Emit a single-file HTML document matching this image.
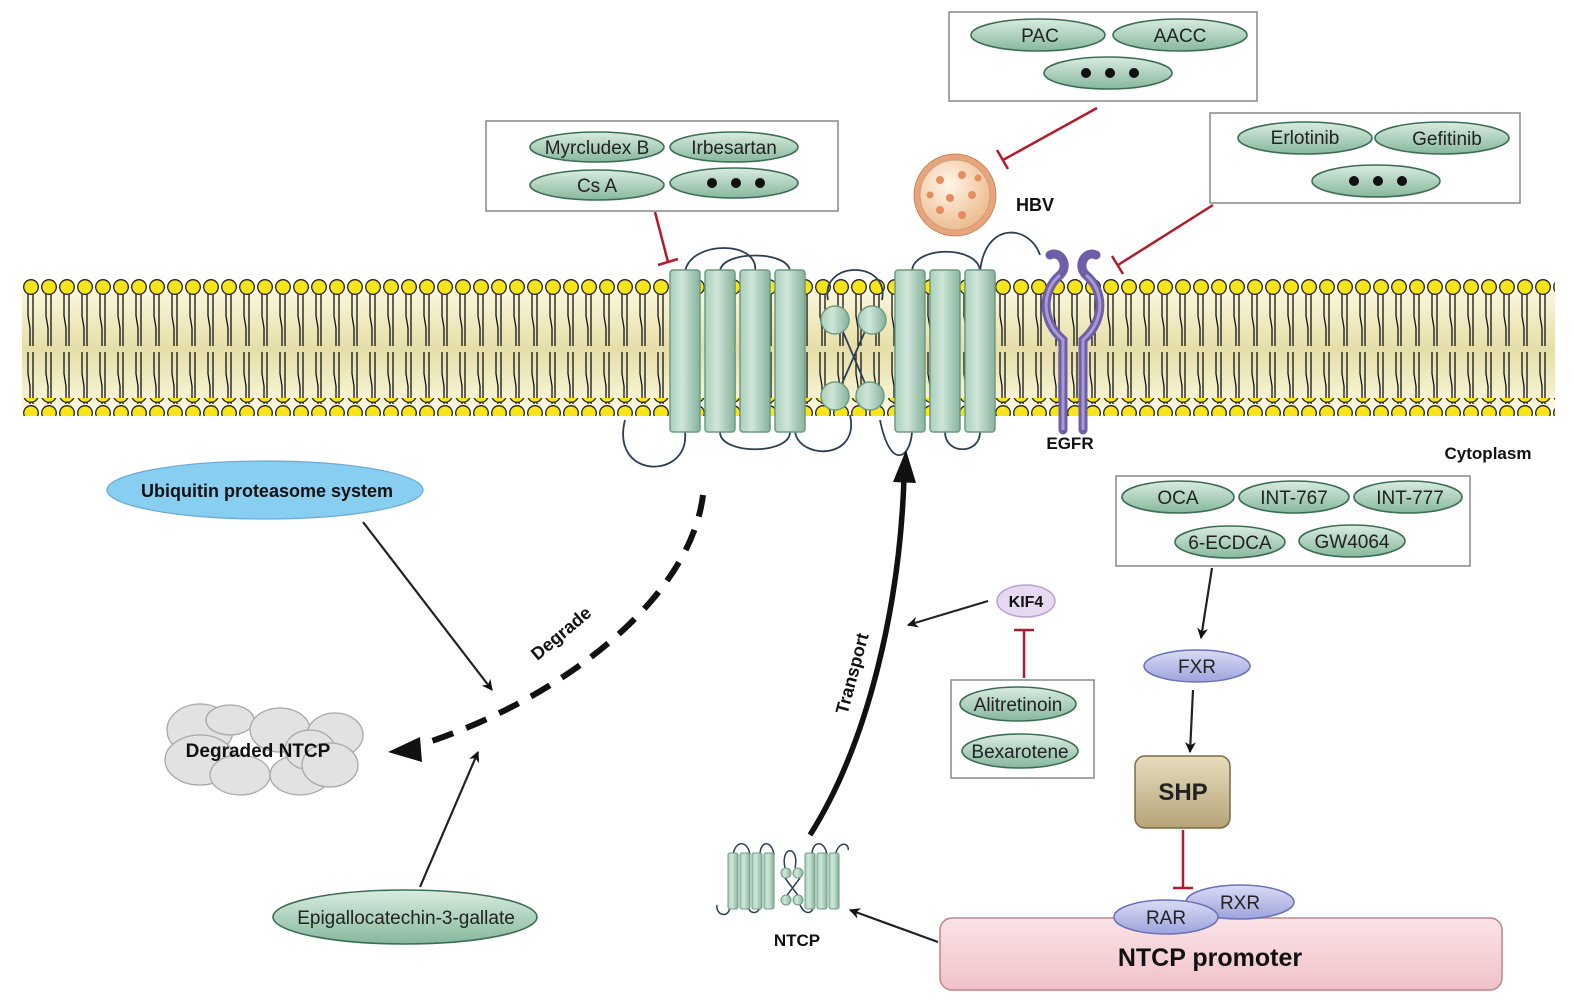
<!DOCTYPE html>
<html><head><meta charset="utf-8"><style>
body{margin:0;background:#fff}
svg{display:block}
text{font-family:"Liberation Sans",sans-serif}
</style></head><body>
<svg width="1574" height="1008" viewBox="0 0 1574 1008" xmlns="http://www.w3.org/2000/svg">
<defs>
<linearGradient id="mem" x1="0" y1="0" x2="0" y2="1">
<stop offset="0" stop-color="#fbf7dc"/><stop offset="0.5" stop-color="#e6dea8"/><stop offset="1" stop-color="#fbf7dc"/></linearGradient>
<linearGradient id="grn" x1="0" y1="0" x2="0" y2="1">
<stop offset="0" stop-color="#d9ece0"/><stop offset="1" stop-color="#86b89c"/></linearGradient>
<linearGradient id="prot" x1="0" y1="0" x2="1" y2="0">
<stop offset="0" stop-color="#a9cfbb"/><stop offset="0.4" stop-color="#cfe6d9"/><stop offset="1" stop-color="#86b39c"/></linearGradient>
<linearGradient id="pur" x1="0" y1="0" x2="0" y2="1">
<stop offset="0" stop-color="#d9dcf5"/><stop offset="1" stop-color="#9da3dc"/></linearGradient>
<linearGradient id="shp" x1="0" y1="0" x2="0" y2="1">
<stop offset="0" stop-color="#e6dcbd"/><stop offset="1" stop-color="#b6a479"/></linearGradient>
<linearGradient id="pink" x1="0" y1="0" x2="0" y2="1">
<stop offset="0" stop-color="#fbe3e6"/><stop offset="1" stop-color="#f0c2c8"/></linearGradient>
<radialGradient id="hbv" cx="0.4" cy="0.35" r="0.7">
<stop offset="0" stop-color="#fff6ea"/><stop offset="1" stop-color="#ecb98a"/></radialGradient>
<pattern id="heads" x="22" y="278" width="18" height="18" patternUnits="userSpaceOnUse">
<circle cx="9" cy="9" r="7.3" fill="#f7e51a" stroke="#222" stroke-width="1.3"/></pattern>
<pattern id="tails" x="22" y="294" width="18" height="110" patternUnits="userSpaceOnUse">
<g stroke="#111" stroke-width="1.3" fill="none">
<polyline points="6,0 6,22 8,34 8,52"/><polyline points="11,0 11,52"/>
<polyline points="6,58 6,80 8,92 8,110"/><polyline points="11,58 11,110"/></g></pattern>
<marker id="ah" viewBox="0 0 10 10" refX="9" refY="5" markerWidth="7" markerHeight="7" orient="auto"><path d="M0,0 L10,5 L0,10 L3,5z" fill="#111"/></marker>
<marker id="ahb" viewBox="0 0 10 10" refX="9" refY="5" markerWidth="5" markerHeight="5" orient="auto"><path d="M0,0 L10,5 L0,10 L3,5z" fill="#111"/></marker>
</defs>

<!-- membrane -->
<rect x="22" y="290" width="1533" height="118" fill="url(#mem)"/>
<rect x="22" y="294" width="1533" height="110" fill="url(#tails)"/>
<rect x="22" y="278" width="1533" height="18" fill="url(#heads)"/>
<rect x="22" y="398" width="1533" height="18" fill="url(#heads)" transform="translate(0,0)"/>

<!-- NTCP loops -->
<g fill="none" stroke="#2b3f55" stroke-width="1.8">
<path d="M685,272 C690,240 760,240 755,272"/>
<path d="M720,272 C720,250 790,250 790,272"/>
<path d="M828,300 C820,260 890,260 882,300"/>
<path d="M912,272 C912,245 980,245 980,272"/>
<path d="M980,272 C985,220 1030,225 1040,255"/>
<path d="M685,432 C690,480 610,480 625,420"/>
<path d="M720,432 C720,455 790,455 790,432"/>
<path d="M795,432 C800,460 860,460 850,415"/>
<path d="M880,420 C890,470 910,460 912,432"/>
<path d="M945,432 C945,455 980,455 980,432"/>
<path d="M838,320 L870,395 M870,320 L837,395"/>
</g>
<g fill="url(#prot)" stroke="#6f9a84" stroke-width="1.5">
<rect x="670" y="270" width="30" height="162" rx="3"/>
<rect x="705" y="270" width="30" height="162" rx="3"/>
<rect x="740" y="270" width="30" height="162" rx="3"/>
<rect x="775" y="270" width="30" height="162" rx="3"/>
<rect x="895" y="270" width="30" height="162" rx="3"/>
<rect x="930" y="270" width="30" height="162" rx="3"/>
<rect x="965" y="270" width="30" height="162" rx="3"/>
<circle cx="835" cy="320" r="14"/><circle cx="872" cy="320" r="14"/>
<circle cx="835" cy="396" r="14"/><circle cx="870" cy="396" r="14"/>
</g>

<!-- EGFR -->
<g fill="none" stroke="#6e5ea8" stroke-width="9" stroke-linecap="round">
<path d="M1063,430 L1063,340 C1040,320 1042,290 1060,275 C1070,265 1060,250 1050,255"/>
<path d="M1083,430 L1083,340 C1106,320 1104,290 1086,275 C1076,265 1086,250 1096,255"/>
</g>
<g fill="none" stroke="#a79bd2" stroke-width="3">
<path d="M1063,430 L1063,340 C1040,320 1042,290 1060,275"/>
<path d="M1083,430 L1083,340 C1106,320 1104,290 1086,275"/>
</g>
<text x="1070" y="449" font-size="17" font-weight="bold" text-anchor="middle" fill="#111">EGFR</text>
<text x="1488" y="459" font-size="17" font-weight="bold" text-anchor="middle" fill="#111">Cytoplasm</text>

<!-- boxes -->
<g fill="#fff" stroke="#888" stroke-width="1.5">
<rect x="486" y="121" width="352" height="90"/>
<rect x="949" y="12" width="308" height="89"/>
<rect x="1210" y="113" width="310" height="90"/>
<rect x="1116" y="476" width="354" height="90"/>
<rect x="951" y="680" width="143" height="98"/>
</g>
<g fill="url(#grn)" stroke="#3d6e55" stroke-width="1.6">
<ellipse cx="597" cy="147" rx="67" ry="15"/><ellipse cx="734" cy="147" rx="64" ry="15"/>
<ellipse cx="597" cy="185" rx="67" ry="15"/><ellipse cx="734" cy="183" rx="64" ry="15"/>
<ellipse cx="1038" cy="35" rx="67" ry="16"/><ellipse cx="1180" cy="35" rx="67" ry="16"/>
<ellipse cx="1108" cy="73" rx="64" ry="16"/>
<ellipse cx="1305" cy="138" rx="67" ry="16"/><ellipse cx="1442" cy="138" rx="67" ry="16"/>
<ellipse cx="1376" cy="181" rx="64" ry="16"/>
<ellipse cx="1178" cy="497" rx="56" ry="16"/><ellipse cx="1294" cy="497" rx="55" ry="16"/>
<ellipse cx="1408" cy="497" rx="54" ry="16"/>
<ellipse cx="1230" cy="542" rx="55" ry="16"/><ellipse cx="1352" cy="541" rx="53" ry="16"/>
<ellipse cx="1018" cy="704" rx="58" ry="17"/><ellipse cx="1020" cy="751" rx="58" ry="17"/>
<ellipse cx="405" cy="917" rx="132" ry="27"/>
</g>
<g font-size="19" fill="#222" text-anchor="middle">
<text x="597" y="154">Myrcludex B</text><text x="734" y="154">Irbesartan</text>
<text x="597" y="192">Cs A</text>
<text x="1040" y="42">PAC</text><text x="1180" y="42">AACC</text>
<text x="1305" y="144">Erlotinib</text><text x="1447" y="145">Gefitinib</text>
<text x="1178" y="504">OCA</text><text x="1294" y="504">INT-767</text><text x="1410" y="504">INT-777</text>
<text x="1230" y="549">6-ECDCA</text><text x="1352" y="548">GW4064</text>
<text x="1018" y="711">Alitretinoin</text><text x="1020" y="758">Bexarotene</text>
<text x="406" y="924">Epigallocatechin-3-gallate</text>
</g>
<g fill="#111">
<circle cx="712" cy="183" r="5"/><circle cx="736" cy="183" r="5"/><circle cx="760" cy="183" r="5"/>
<circle cx="1086" cy="73" r="5"/><circle cx="1110" cy="73" r="5"/><circle cx="1134" cy="73" r="5"/>
<circle cx="1354" cy="181" r="5"/><circle cx="1378" cy="181" r="5"/><circle cx="1402" cy="181" r="5"/>
</g>

<!-- HBV -->
<g fill="#e0966a" stroke="#c07a50" stroke-width="0.8">
<circle cx="955" cy="195" r="41" fill="#e8a47a"/>
</g>
<circle cx="955" cy="195" r="35" fill="url(#hbv)" stroke="#c9a080"/>
<g fill="#e58d5e">
<circle cx="940" cy="180" r="4"/><circle cx="962" cy="175" r="4"/><circle cx="950" cy="198" r="4"/>
<circle cx="972" cy="195" r="4"/><circle cx="940" cy="210" r="4"/><circle cx="962" cy="215" r="4"/>
<circle cx="930" cy="195" r="3.5"/><circle cx="978" cy="178" r="3.5"/>
</g>
<text x="1035" y="211" font-size="18" font-weight="bold" text-anchor="middle" fill="#111">HBV</text>

<!-- inhibitory red lines -->
<g stroke="#b01c2e" stroke-width="2.5" fill="none">
<path d="M655,212 L668,262 M658,265 L678,259"/>
<path d="M1097,108 L1003,160 M997,150 L1008,169"/>
<path d="M1213,205 L1118,265 M1112,256 L1123,274"/>
<path d="M1024,678 L1024,630 M1014,630 L1034,630"/>
<path d="M1183,830 L1183,888 M1173,888 L1193,888"/>
</g>

<!-- FXR / SHP / RAR pathway -->
<g stroke="#222" stroke-width="2.2" fill="none" marker-end="url(#ahb)">
<path d="M1212,568 L1201,638"/>
<path d="M1193,690 L1190,752"/>
<path d="M938,942 L850,910"/>
<path d="M988,601 L908,625"/>
<path d="M363,522 L492,690"/>
<path d="M420,887 L478,752"/>
</g>
<ellipse cx="1197" cy="666" rx="53" ry="16" fill="url(#pur)" stroke="#6a72b8" stroke-width="1.5"/>
<text x="1197" y="673" font-size="19" text-anchor="middle" fill="#222">FXR</text>
<rect x="1135" y="756" width="95" height="72" rx="10" fill="url(#shp)" stroke="#7c6c44" stroke-width="1.5"/>
<text x="1183" y="800" font-size="24" font-weight="bold" text-anchor="middle" fill="#222">SHP</text>
<rect x="940" y="918" width="562" height="72" rx="12" fill="url(#pink)" stroke="#c0848c" stroke-width="1.5"/>
<text x="1210" y="966" font-size="25" font-weight="bold" text-anchor="middle" fill="#111">NTCP promoter</text>
<ellipse cx="1240" cy="902" rx="54" ry="17" fill="url(#pur)" stroke="#6a72b8" stroke-width="1.5"/>
<text x="1240" y="909" font-size="19" text-anchor="middle" fill="#222">RXR</text>
<ellipse cx="1166" cy="917" rx="52" ry="17" fill="url(#pur)" stroke="#6a72b8" stroke-width="1.5"/>
<text x="1166" y="924" font-size="19" text-anchor="middle" fill="#222">RAR</text>

<!-- KIF4 -->
<ellipse cx="1026" cy="601" rx="29" ry="16" fill="#e7d9f1" stroke="#b9a2d3" stroke-width="1.5"/>
<text x="1026" y="607" font-size="16" font-weight="bold" text-anchor="middle" fill="#111">KIF4</text>

<!-- small NTCP -->
<g fill="none" stroke="#2b3f55" stroke-width="1.5">
<path d="M733,855 C735,840 748,840 750,855 M760,855 C760,840 772,840 774,855 M785,868 C780,845 800,845 795,868 M812,855 C812,840 825,840 827,855 M835,855 C840,838 850,845 848,850"/>
<path d="M730,905 C730,920 715,915 717,905 M748,905 C748,915 760,915 760,905 M785,878 L800,898 M800,878 L785,898 M800,905 C805,915 812,915 814,905"/>
</g>
<g fill="url(#prot)" stroke="#6f9a84" stroke-width="1">
<rect x="728" y="853" width="10" height="56" rx="2"/><rect x="740" y="853" width="10" height="56" rx="2"/>
<rect x="752" y="853" width="10" height="56" rx="2"/><rect x="764" y="853" width="10" height="56" rx="2"/>
<rect x="805" y="853" width="10" height="56" rx="2"/><rect x="817" y="853" width="10" height="56" rx="2"/>
<rect x="829" y="853" width="10" height="56" rx="2"/>
<circle cx="786" cy="873" r="5"/><circle cx="798" cy="873" r="5"/>
<circle cx="786" cy="900" r="5"/><circle cx="798" cy="900" r="5"/>
</g>
<text x="797" y="946" font-size="17" font-weight="bold" text-anchor="middle" fill="#111">NTCP</text>

<!-- Transport -->
<path d="M810,835 C870,740 900,600 904,478" fill="none" stroke="#111" stroke-width="5.5"/>
<path d="M893,482 L906,450 L916,483 Z" fill="#111"/>
<text x="0" y="0" font-size="18" font-weight="bold" fill="#111" text-anchor="middle" transform="translate(858,675) rotate(-75)">Transport</text>

<!-- Ubiquitin -->
<ellipse cx="265" cy="490" rx="158" ry="29" fill="#88cef0" stroke="#6aaad6" stroke-width="1.2"/>
<text x="267" y="497" font-size="18" font-weight="bold" text-anchor="middle" fill="#111">Ubiquitin proteasome system</text>

<!-- Degrade dashed -->
<path d="M703,495 C690,600 560,700 420,745" fill="none" stroke="#111" stroke-width="6" stroke-dasharray="22,14"/>
<path d="M420,737 L388,752 L422,762 Z" fill="#111"/>
<text x="0" y="0" font-size="18" font-weight="bold" fill="#111" text-anchor="middle" transform="translate(565,638) rotate(-40)">Degrade</text>

<!-- Degraded NTCP cloud -->
<g fill="#e2e2e2" stroke="#a8a8a8" stroke-width="1.3">
<ellipse cx="200" cy="730" rx="33" ry="26"/><ellipse cx="230" cy="720" rx="24" ry="15"/>
<ellipse cx="280" cy="730" rx="30" ry="22"/><ellipse cx="335" cy="735" rx="28" ry="22"/>
<ellipse cx="200" cy="760" rx="35" ry="25"/><ellipse cx="240" cy="775" rx="30" ry="20"/>
<ellipse cx="300" cy="775" rx="30" ry="20"/><ellipse cx="310" cy="750" rx="25" ry="20"/>
<ellipse cx="330" cy="765" rx="28" ry="22"/>
</g>
<text x="258" y="757" font-size="19" font-weight="bold" text-anchor="middle" fill="#111">Degraded NTCP</text>
</svg>
</body></html>
